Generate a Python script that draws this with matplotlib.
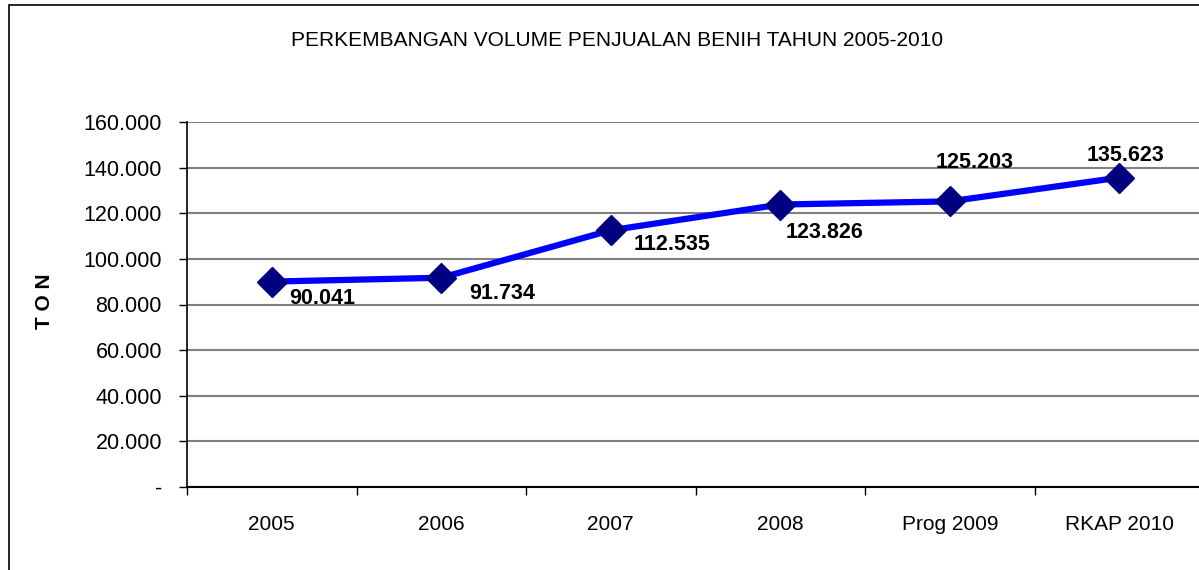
import numpy as np
import matplotlib.pyplot as plt
from matplotlib.patches import Rectangle

plt.rcParams['font.family'] = ['Liberation Sans', 'DejaVu Sans']

categories = ["2005", "2006", "2007", "2008", "Prog 2009", "RKAP 2010"]
volume = [90041, 91734, 112535, 123826, 125203, 135623]
value_labels = ["90.041", "91.734", "112.535", "123.826", "125.203", "135.623"]
yticks = [0, 20000, 40000, 60000, 80000, 100000, 120000, 140000, 160000]
ytick_labels = ["-", "20.000", "40.000", "60.000", "80.000", "100.000", "120.000", "140.000", "160.000"]
# label offsets in pixels (dx, dy)
label_offsets = [(51, -17), (61, -16), (61, -14), (44, -28), (25, 39), (6, 22)]

fig = plt.figure(figsize=(11.99, 5.70), dpi=100)
fig.patches.append(Rectangle((9 / 1199, -0.1), 1.2, 1.1 - 5 / 570, transform=fig.transFigure,
                             fill=False, edgecolor='black', linewidth=1.2))

ax = fig.add_axes([187 / 1199, 83 / 570, 1017 / 1199, 365 / 570])
x = np.arange(len(categories))
ax.plot(x, volume, color='#0000ff', linewidth=4.5, marker='D', markersize=15,
        markerfacecolor='#000080', markeredgecolor='#000080', zorder=3)

for i, (lab, off) in enumerate(zip(value_labels, label_offsets)):
    ax.annotate(lab, (x[i], volume[i]), xytext=off, textcoords='offset pixels',
                ha='center', va='center', fontsize=15.5, fontweight='bold', zorder=4)

ax.set_xlim(-0.5, len(categories) - 0.5)
ax.set_ylim(0, 160000)
ax.set_yticks(yticks)
ax.set_yticklabels(ytick_labels, fontsize=15.5)
ax.set_xticks(x)
ax.set_xticklabels(categories, fontsize=15)
ax.set_xticks(np.arange(len(categories) + 1) - 0.5, minor=True)
ax.tick_params(axis='x', which='major', length=0, pad=20)
ax.tick_params(axis='x', which='minor', length=6, width=1, direction='out')
ax.tick_params(axis='y', length=6, width=1, direction='out', pad=12)
ax.grid(axis='y', color='#808080', linewidth=1.5)
ax.set_axisbelow(True)
for s in ['top', 'right']:
    ax.spines[s].set_visible(False)
ax.spines['left'].set_linewidth(1.2)
ax.spines['bottom'].set_linewidth(1.5)

fig.text(45 / 1199, 1 - 301 / 570, "T O N", rotation=90, ha='center', va='center',
         fontsize=15, fontweight='bold')
fig.text(617 / 1199, 1 - 40 / 570, "PERKEMBANGAN VOLUME PENJUALAN BENIH TAHUN 2005-2010",
         ha='center', va='center', fontsize=15)

fig.savefig('out.png', dpi=100)
